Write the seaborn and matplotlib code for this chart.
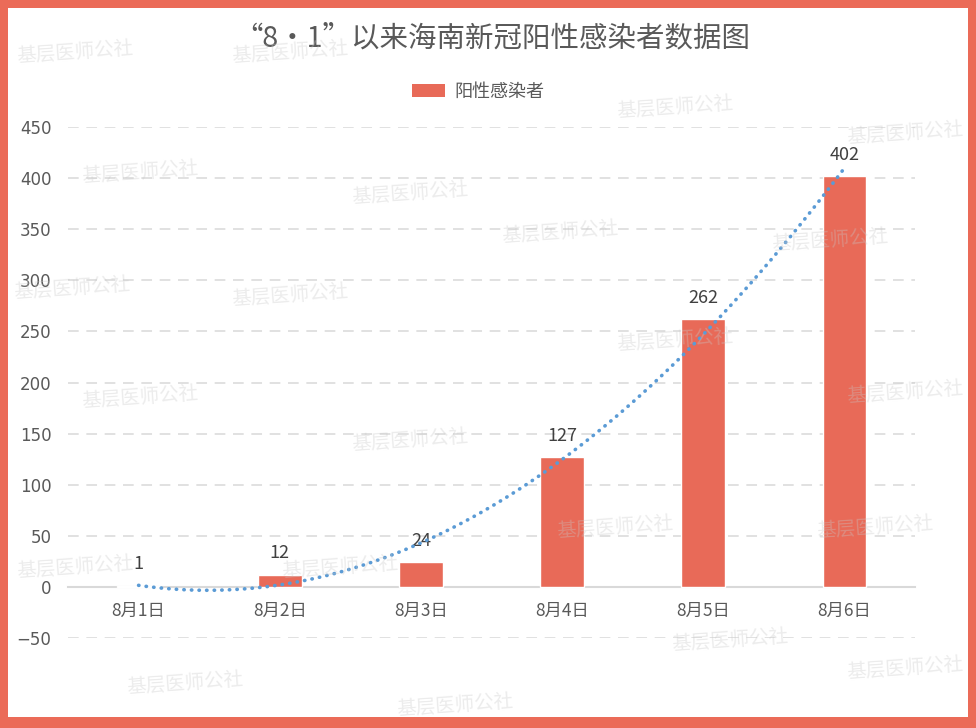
import numpy as np
import pandas as pd
import matplotlib
matplotlib.use("Agg")
import matplotlib.pyplot as plt
import matplotlib.patches as mpatches
import seaborn as sns

# ---- data ----
dates = ["8月1日", "8月2日", "8月3日", "8月4日", "8月5日", "8月6日"]
positives = [1, 12, 24, 127, 262, 402]
title = "“8・1”以来海南新冠阳性感染者数据图"
series_name = "阳性感染者"
yticks = [-50, 0, 50, 100, 150, 200, 250, 300, 350, 400, 450]
watermark = "基层医师公社"

sns.set_theme(style="white")
plt.rcParams['font.family'] = ['Noto Sans CJK SC', 'DejaVu Sans']
plt.rcParams['axes.unicode_minus'] = True

W, H = 976, 728
fig = plt.figure(figsize=(W / 100, H / 100), dpi=100)
fig.patch.set_facecolor('#EB6B58')
fig.patches.append(mpatches.Rectangle((8 / W, 11 / H), 960 / W, 709 / H,
                                      transform=fig.transFigure, facecolor='white',
                                      edgecolor='none', zorder=-5))

ax = fig.add_axes([68 / W, 1 - 638 / H, (915 - 68) / W, (638 - 127) / H])
ax.set_facecolor('none')

bar_color = '#E86A58'
df = pd.DataFrame({"date": dates, "value": positives})
sns.barplot(data=df, x="date", y="value", color=bar_color, width=0.31,
            saturation=1, ax=ax, zorder=3)

# polynomial (order 2) trendline
sns.regplot(x=np.arange(len(positives)), y=np.array(positives, dtype=float),
            order=2, scatter=False, ci=None, truncate=True, ax=ax,
            line_kws=dict(color='#5B9BD5', lw=2.6, ls=(0, (0.1, 2.0)),
                          dash_capstyle='round', zorder=4))

ax.set_ylim(-50, 450)
ax.set_xlim(-0.5, len(dates) - 0.5)
ax.set_yticks(yticks)
ax.set_yticklabels([("\u2212" + str(-v)) if v < 0 else str(v) for v in yticks],
                   fontfamily=['DejaVu Sans'])
ax.set_xlabel("")
ax.set_ylabel("")

for y in yticks:
    if y != 0:
        ax.axhline(y, color='#D9D9D9', lw=1.1, ls=(0, (7, 5)), zorder=1)

for s in ['top', 'right', 'left']:
    ax.spines[s].set_visible(False)
ax.spines['bottom'].set_position(('data', 0))
ax.spines['bottom'].set_color('#D9D9D9')
ax.spines['bottom'].set_linewidth(1.5)
ax.spines['bottom'].set_zorder(2)

ax.tick_params(axis='x', length=0, pad=11, labelsize=12.5, labelcolor='#595959')
ax.tick_params(axis='y', length=0, pad=12, labelsize=12, labelcolor='#595959')

for c in ax.containers:
    ax.bar_label(c, labels=[str(v) for v in positives], padding=9,
                 fontsize=13, color='#404040')

fig.text(0.504, 1 - 38 / H, title, ha='center', va='center',
         fontsize=20.5, color='#595959')

handle = mpatches.Patch(facecolor=bar_color, edgecolor='none', label=series_name)
fig.legend(handles=[handle], loc='center', bbox_to_anchor=(0.49, 1 - 92 / H),
           frameon=False, fontsize=13, handlelength=1.8, handleheight=0.7,
           handletextpad=0.5, labelcolor='#595959')

# faint watermarks
wm_pos = [(75, 52), (290, 52), (675, 107), (905, 133), (140, 172), (410, 193),
          (560, 232), (830, 240), (72, 288), (290, 295), (140, 397), (675, 340),
          (905, 392), (410, 440), (615, 527), (875, 527), (75, 567), (340, 567),
          (730, 640), (185, 683), (455, 705), (905, 668)]
for (px, py) in wm_pos:
    fig.text(px / W, 1 - py / H, watermark, ha='center', va='center',
             fontsize=14, color='#C8C8C8', alpha=0.35,
             rotation=4, zorder=10)

fig.savefig("out.png", dpi=100, facecolor=fig.get_facecolor())
